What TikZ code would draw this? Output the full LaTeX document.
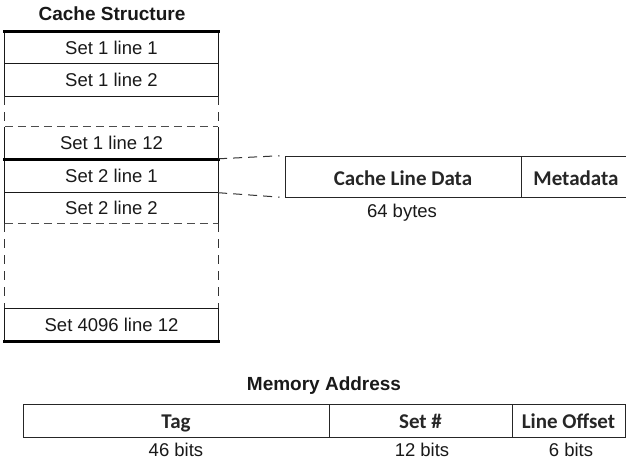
\documentclass[tikz,border=0pt]{standalone}
\usepackage{fontspec}
\setmainfont{Liberation Sans}
\newfontfamily\calib{Carlito}
\begin{document}
\begin{tikzpicture}[x=1pt,y=-1pt,
  row/.style={inner sep=0pt, minimum width=213pt, text=black!90, font=\fontsize{18.5}{22}\selectfont},
  ttl/.style={inner sep=0pt, text=black!90, font=\fontsize{19}{23}\selectfont\bfseries},
  cl/.style={draw=black!85, line width=1pt, inner sep=0pt, text=black!85, font=\fontsize{21}{25}\selectfont\calib\bfseries},
  lbl/.style={inner sep=0pt, anchor=base, text=black!90, font=\fontsize{18.5}{22}\selectfont},
  rowline/.style={draw=black!90, line width=1pt},
  thickline/.style={draw=black, line width=3pt},
  dashside/.style={draw=black!80, line width=1pt, dash pattern=on 9pt off 7pt},
  dashh/.style={draw=black!70, line width=0.9pt, dash pattern=on 8pt off 5pt},
  conn/.style={draw=black!80, line width=1pt, dash pattern=on 9pt off 6pt}]
\useasboundingbox (0,0) rectangle (626,464);

% Cache structure
\node[ttl] (ct) at (112,14) {Cache Structure};
\node[row, minimum height=31pt] (r1) at (111.5,47.5) {Set 1 line 1};
\node[row, minimum height=33pt] (r2) at (111.5,79.5) {Set 1 line 2};
\node[row, minimum height=32pt] (r12) at (111.5,143) {Set 1 line 12};
\node[row, minimum height=33.5pt] (s1) at (111.5,175.75) {Set 2 line 1};
\node[row, minimum height=30.5pt] (s2) at (111.5,207.75) {Set 2 line 2};
\node[row, minimum height=32pt] (sl) at (111.5,325) {Set 4096 line 12};

\draw[rowline] (r1.north west) rectangle (r2.south east);
\draw[rowline] (r1.south west) -- (r1.south east);
\draw[dashside] (r2.south west) -- (r12.north west);
\draw[dashside] (r2.south east) -- (r12.north east);
\draw[dashh] (r12.north west) -- (r12.north east);
\draw[rowline] (r12.north west) -- (r12.south west) -- (r12.south east) -- (r12.north east);
\draw[rowline] (s1.north west) rectangle (s1.south east);
\draw[rowline] (s1.south west) -- (s2.south west);
\draw[rowline] (s1.south east) -- (s2.south east);
\draw[dashh] (s2.south west) -- (s2.south east);
\draw[dashside] (s2.south west) -- (sl.north west);
\draw[dashside] (s2.south east) -- (sl.north east);
\draw[rowline] (sl.north west) rectangle (sl.south east);

\draw[thickline] ([xshift=-1.5pt]r1.north west) -- ([xshift=1.5pt]r1.north east);
\draw[thickline] ([xshift=-1.5pt]r12.south west) -- ([xshift=1.5pt]r12.south east);
\draw[thickline] ([xshift=-1.5pt]sl.south west) -- ([xshift=1.5pt]sl.south east);

% Cache line
\node[cl, minimum width=236pt, minimum height=41pt] (cld) at (403,176.5) {};
\node[cl, minimum width=105.5pt, minimum height=41pt] (meta) at (573.75,176.5) {};
\node[inner sep=0pt, anchor=base, text=black!85, font=\fontsize{21}{25}\selectfont\calib\bfseries] (cldt) at (403,185) {Cache Line Data};
\node[inner sep=0pt, anchor=base, text=black!85, font=\fontsize{21}{25}\selectfont\calib\bfseries] (metat) at (576,185) {Metadata};
\node[lbl] (bytes) at (402,217.5) {64 bytes};

\draw[conn, shorten >=5pt] (s1.north east) -- (cld.north west);
\draw[conn, shorten >=5pt] (s1.south east) -- (cld.south west);

% Memory address
\node[ttl, anchor=base] (ma) at (324,390) {Memory Address};
\node[cl, minimum width=306pt, minimum height=33pt] (tag) at (176,420.5) {};
\node[cl, minimum width=183pt, minimum height=33pt] (set) at (420.5,420.5) {};
\node[cl, minimum width=113pt, minimum height=33pt] (off) at (568.5,420.5) {};
\node[inner sep=0pt, anchor=base, text=black!85, font=\fontsize{21}{25}\selectfont\calib\bfseries] (tagt) at (176,428.5) {Tag};
\node[inner sep=0pt, anchor=base, text=black!85, font=\fontsize{21}{25}\selectfont\calib\bfseries] (sett) at (420.5,428.5) {Set \#};
\node[inner sep=0pt, anchor=base, text=black!85, font=\fontsize{21}{25}\selectfont\calib\bfseries] (offt) at (568.5,428.5) {Line Offset};
\node[lbl] (b46) at (176,456.5) {46 bits};
\node[lbl] (b12) at (422,456.5) {12 bits};
\node[lbl] (b6) at (571,456.5) {6 bits};
\end{tikzpicture}
\end{document}
